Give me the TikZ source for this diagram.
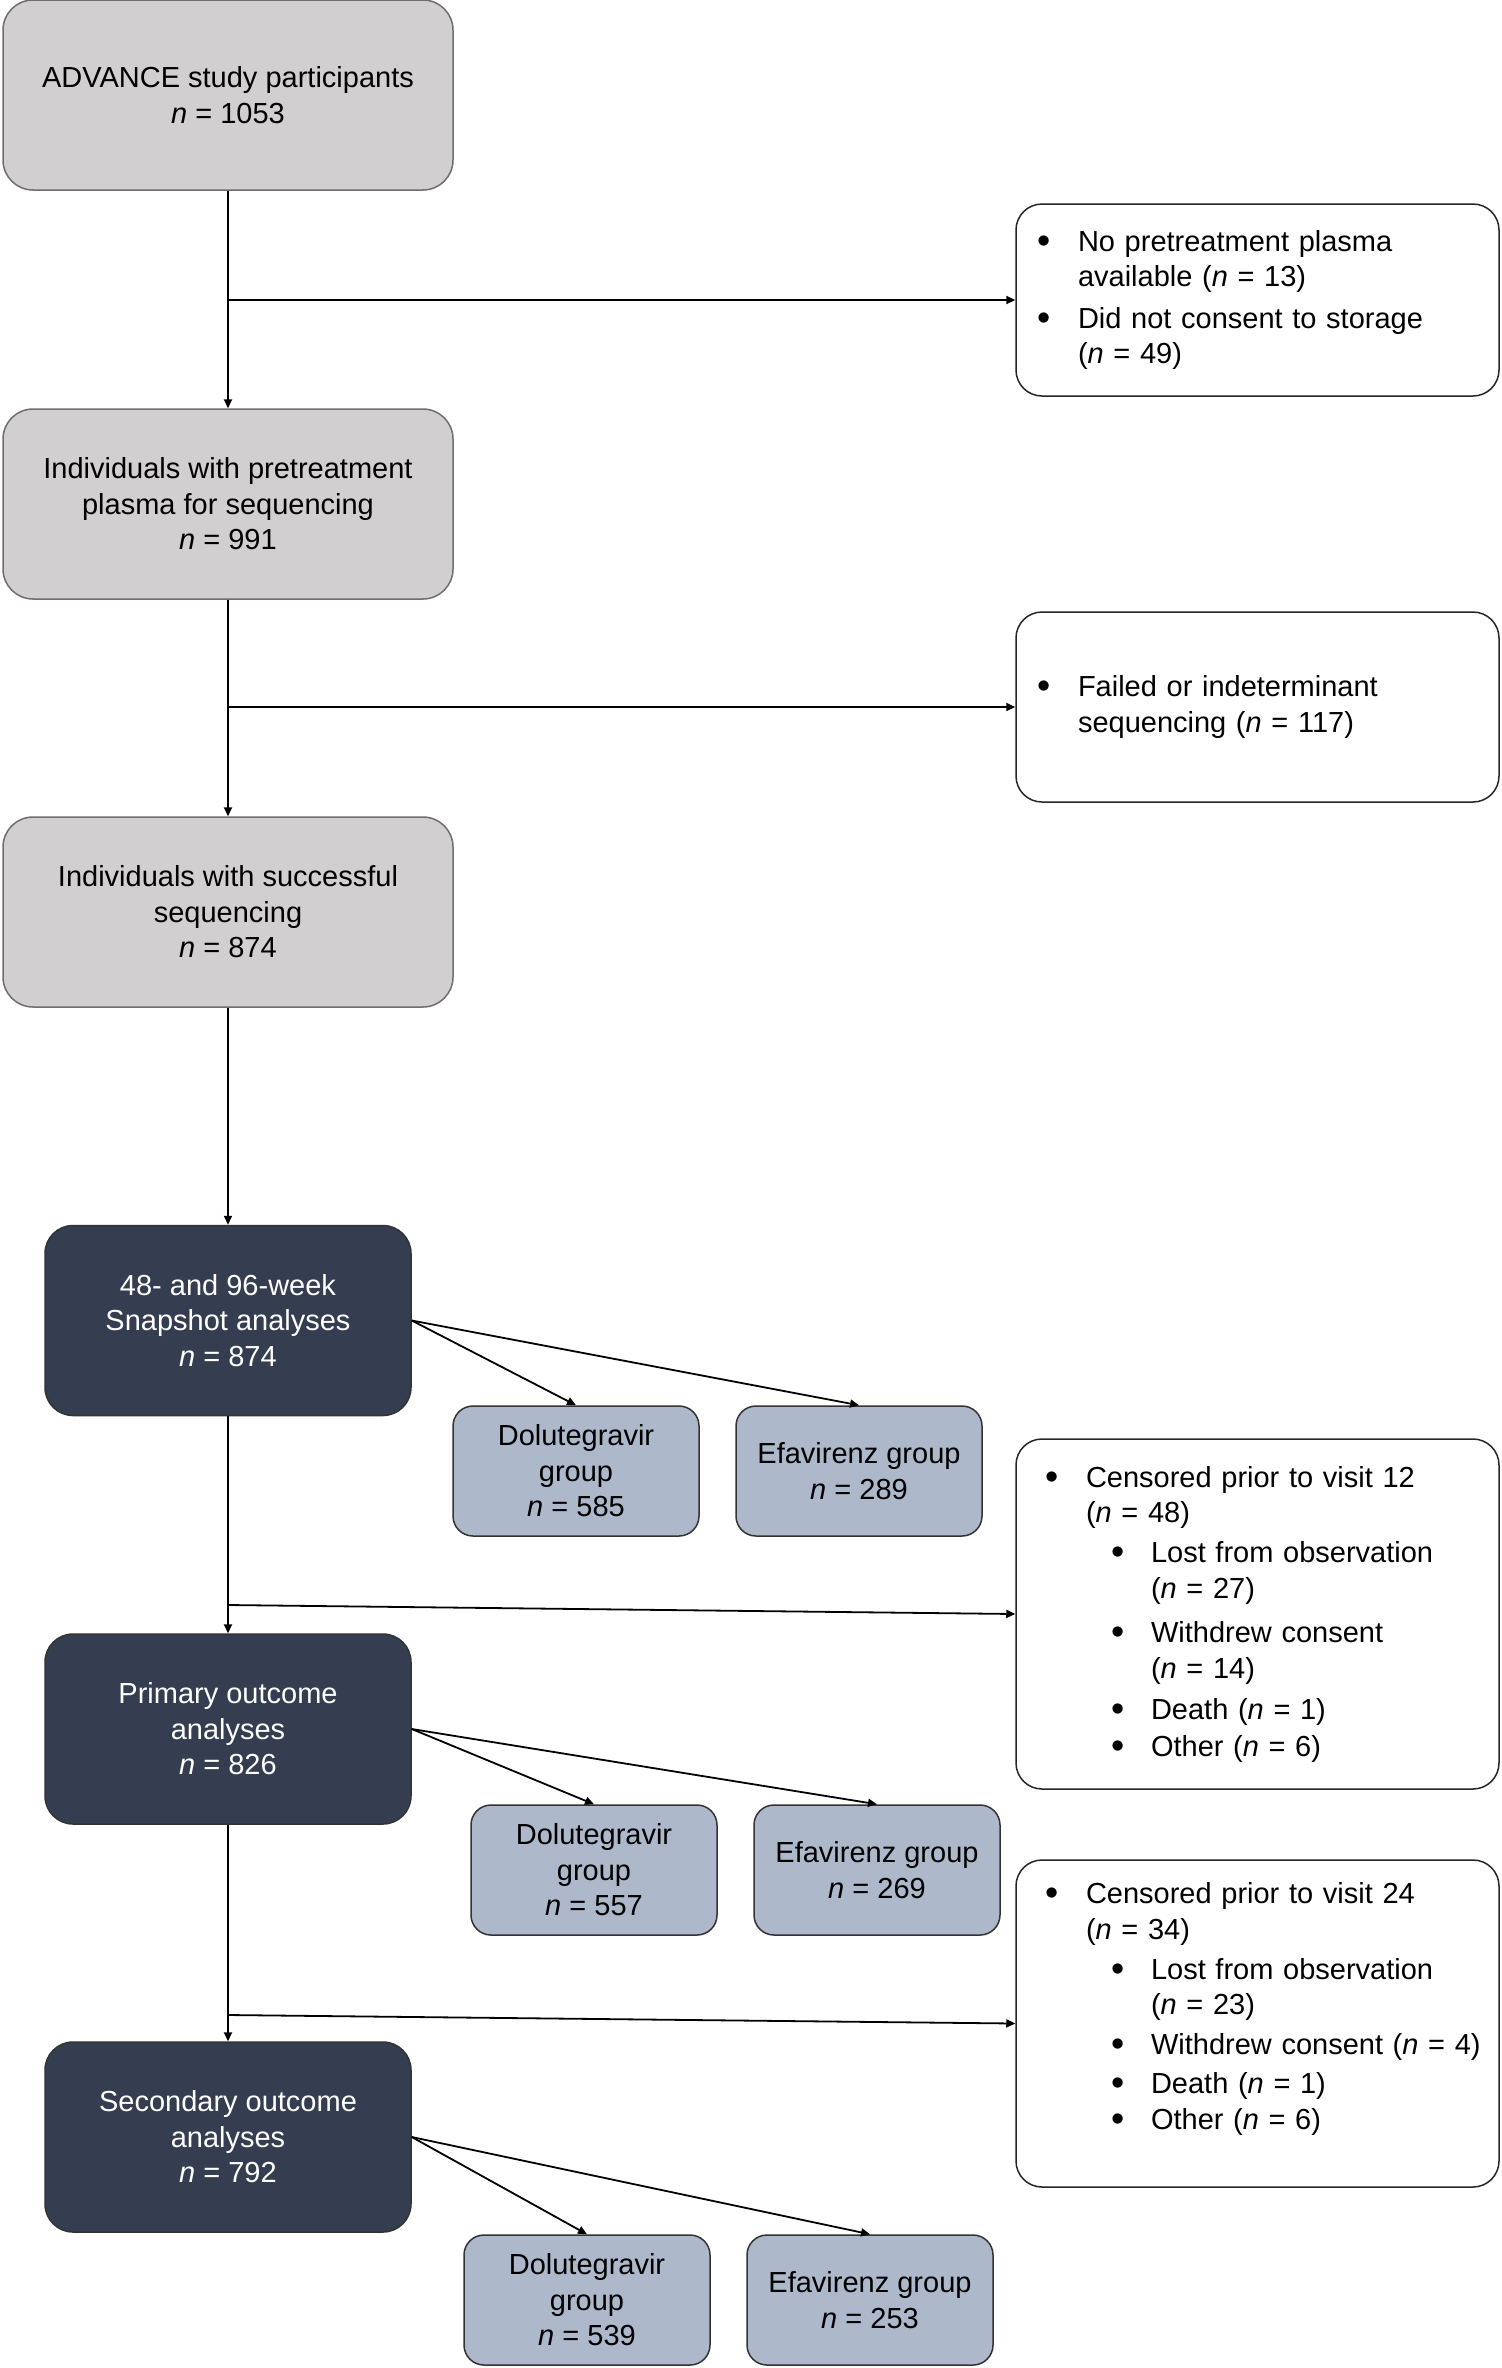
\documentclass[tikz,border=0pt]{standalone}
\usepackage{fontspec}
\setmainfont{Liberation Sans}
\definecolor{boxgrey}{RGB}{209,207,208}
\definecolor{edgegrey}{RGB}{110,110,110}
\definecolor{boxnavy}{RGB}{52,62,80}
\definecolor{boxblue}{RGB}{173,184,203}
\usetikzlibrary{arrows.meta,calc}
\hfuzz=10pt
\newcommand{\bulmark}{\raisebox{-1pt}{\scalebox{1.3}{\textbullet}}}
\newcommand{\bul}{\makebox[20.5pt][l]{\bulmark}}
\newcommand{\ind}{\hspace*{20.5pt}}
\newcommand{\subbul}{\hspace*{33pt}\makebox[20pt][l]{\bulmark}}
\newcommand{\subind}{\hspace*{53pt}}

\begin{document}
\begin{tikzpicture}[x=0.5pt,y=-0.5pt,
  font=\fontsize{14.5}{17.75}\selectfont,
  greybox/.style={draw=edgegrey, line width=0.75pt, fill=boxgrey, rounded corners=15pt, minimum width=225pt, minimum height=95pt, align=center},
  navybox/.style={draw=black!80, line width=0.75pt, fill=boxnavy, text=white, rounded corners=14pt, minimum width=183pt, minimum height=95pt, align=center},
  armbox/.style={draw=black!80, line width=0.75pt, fill=boxblue, rounded corners=10pt, minimum width=123pt, minimum height=65pt, align=center},
  exclbox/.style={draw=black!85, line width=0.75pt, fill=white, rounded corners=13pt, minimum width=241.5pt, align=left},
  flow/.style={-{Triangle[length=4.5pt,width=4pt]}, line width=0.9pt}]
  \useasboundingbox (0,0) rectangle (1501,2368);
  % Screening
  \node[greybox] (part) at (228,95) {ADVANCE study participants\\\textit{n} = 1053};
  \node[greybox] (plasma) at (228,504) {Individuals with pretreatment\\plasma for sequencing\\\textit{n} = 991};
  \node[greybox] (seq) at (228,912) {Individuals with successful\\sequencing\\\textit{n} = 874};
  % Exclusions
  \node[exclbox, inner xsep=10.5pt, text width=220.5pt, minimum height=96pt] (nostore) at (1257.5,300) {\bul No pretreatment plasma\\\ind available (\textit{n} = 13)\\[3pt]\bul Did not consent to storage\\\ind (\textit{n} = 49)};
  \node[exclbox, inner xsep=10.5pt, text width=220.5pt, minimum height=95pt] (failed) at (1257.5,707) {\bul Failed or indeterminant\\\ind sequencing (\textit{n} = 117)};
  % Analyses
  \node[navybox] (snap) at (228,1320.5) {48- and 96-week\\Snapshot analyses\\\textit{n} = 874};
  \node[navybox] (prim) at (228,1729) {Primary outcome\\analyses\\\textit{n} = 826};
  \node[navybox] (sec) at (228,2137) {Secondary outcome\\analyses\\\textit{n} = 792};
  % Arms
  \node[armbox] (dolsnap) at (576,1471) {Dolutegravir\\group\\\textit{n} = 585};
  \node[armbox] (efasnap) at (859,1471) {Efavirenz group\\\textit{n} = 289};
  \node[armbox] (dolprim) at (594,1870) {Dolutegravir\\group\\\textit{n} = 557};
  \node[armbox] (efaprim) at (877,1870) {Efavirenz group\\\textit{n} = 269};
  \node[armbox] (dolsec) at (587,2300) {Dolutegravir\\group\\\textit{n} = 539};
  \node[armbox] (efasec) at (870,2300) {Efavirenz group\\\textit{n} = 253};
  % Censored
  \node[exclbox, inner xsep=14.5pt, text width=212.5pt, minimum height=175pt] (cens12) at (1257.5,1614) {\bul Censored prior to visit 12\\\ind (\textit{n} = 48)\\[2.25pt]\subbul Lost from observation\\\subind (\textit{n} = 27)\\[4.5pt]\subbul Withdrew consent\\\subind (\textit{n} = 14)\\[3pt]\subbul Death (\textit{n} = 1)\\[0.5pt]\subbul Other (\textit{n} = 6)};
  \node[exclbox, inner xsep=14.5pt, text width=212.5pt, minimum height=163.5pt] (cens24) at (1257.5,2023.5) {\bul Censored prior to visit 24\\\ind (\textit{n} = 34)\\[2.25pt]\subbul Lost from observation\\\subind (\textit{n} = 23)\\[2.25pt]\subbul \mbox{Withdrew consent (\textit{n} = 4)}\\[1.5pt]\subbul Death (\textit{n} = 1)\\[0.5pt]\subbul Other (\textit{n} = 6)\\[-6pt]\strut};
  % Flow
  \draw[flow] (part.south) -- (plasma.north);
  \draw[flow] (plasma.south) -- (seq.north);
  \draw[flow] (seq.south) -- (snap.north);
  \draw[flow] (snap.south) -- (prim.north);
  \draw[flow] (prim.south) -- (sec.north);
  \coordinate (split1) at (part.south |- nostore.west);
  \coordinate (split2) at (plasma.south |- failed.west);
  \coordinate (split3) at (228,1605);
  \coordinate (split4) at (228,2015);
  \draw[flow] (split1) -- (nostore.west);
  \draw[flow] (split2) -- (failed.west);
  \draw[flow] (split3) -- (cens12.west);
  \draw[flow] (split4) -- (cens24.west);
  \draw[flow] (snap.east) -- (dolsnap.north);
  \draw[flow] (snap.east) -- (efasnap.north);
  \draw[flow] (prim.east) -- (dolprim.north);
  \draw[flow] (prim.east) -- (efaprim.north);
  \draw[flow] (sec.east) -- (dolsec.north);
  \draw[flow] (sec.east) -- (efasec.north);
\end{tikzpicture}
\end{document}
